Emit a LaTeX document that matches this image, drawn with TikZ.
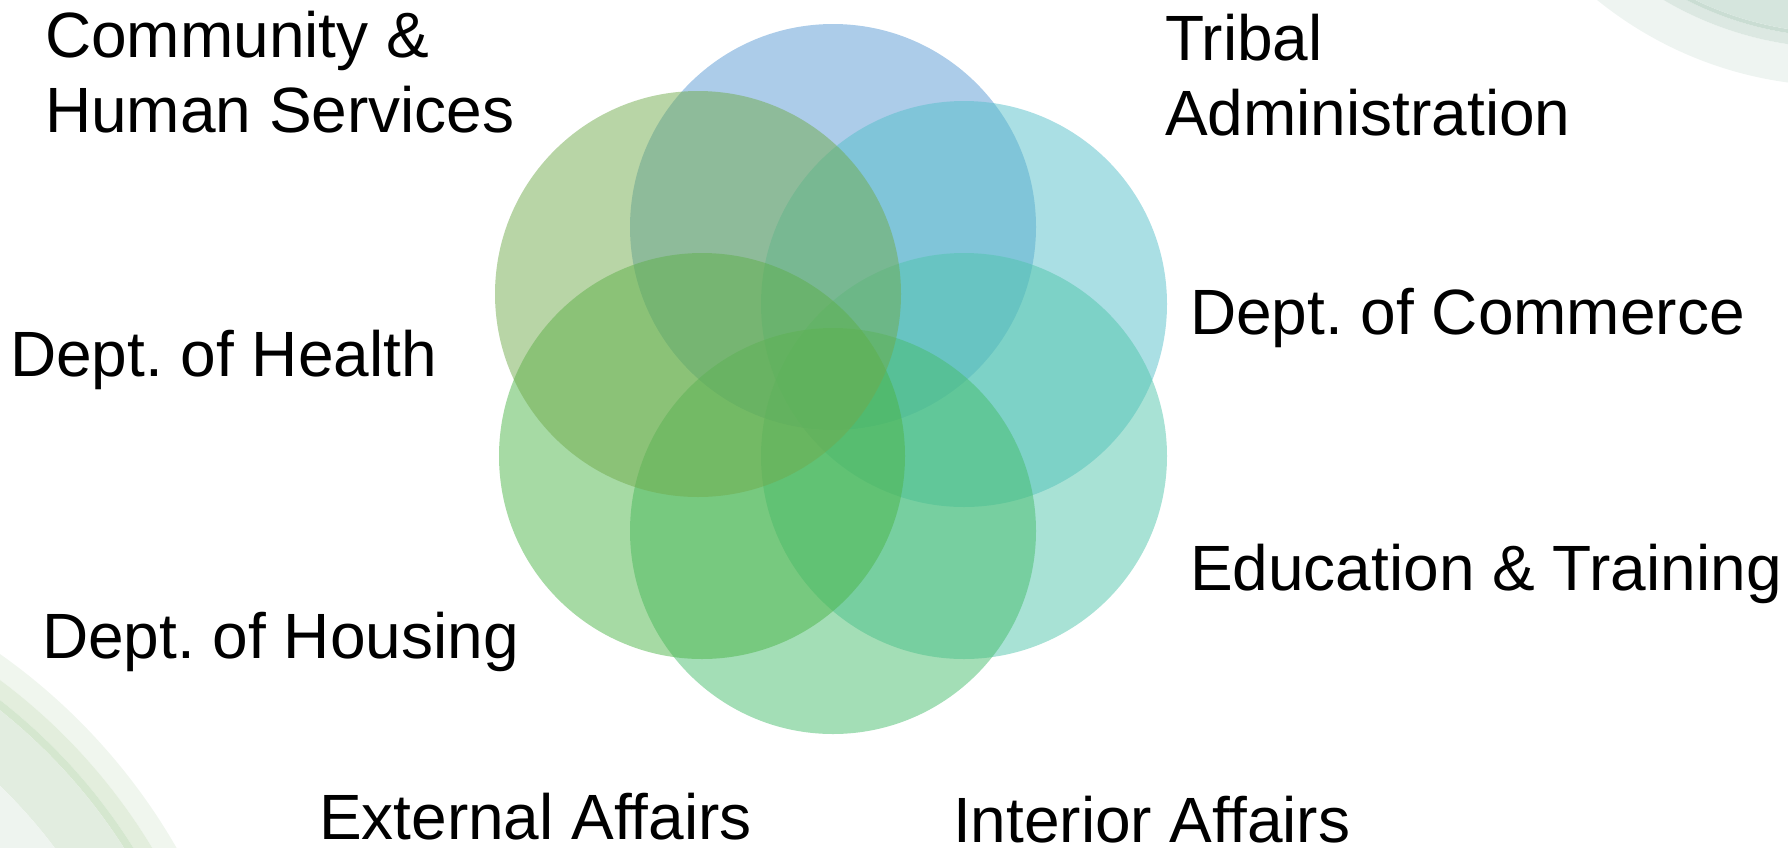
\documentclass[tikz,border=0pt]{standalone}
\usepackage{fontspec}
\setmainfont{Liberation Sans}
\frenchspacing
\definecolor{cblue}{RGB}{89,153,211}
\definecolor{cteal}{RGB}{85,191,201}
\definecolor{cmint}{RGB}{81,197,171}
\definecolor{cgreen}{RGB}{71,189,109}
\definecolor{cleaf}{RGB}{77,181,73}
\definecolor{colive}{RGB}{113,171,77}
\definecolor{blA}{HTML}{F0F6EE}
\definecolor{blB}{HTML}{E3EEDD}
\definecolor{blC}{HTML}{D5E7CF}
\definecolor{blD}{HTML}{E2EDE0}
\definecolor{blE}{HTML}{EEF4EF}
\definecolor{trA}{HTML}{EEF4F1}
\definecolor{trB}{HTML}{DCE8E2}
\definecolor{trC}{HTML}{CADDD3}
\definecolor{trD}{HTML}{D5E5DD}
\begin{document}
\begin{tikzpicture}[x=1pt,y=-1pt,
  venn/.style={circle, minimum size=406pt, inner sep=0pt, outer sep=0pt, draw=none, fill=#1, fill opacity=0.5},
  lbl/.style={anchor=base west, inner sep=0pt, outer sep=0pt, font=\fontsize{64}{75}\selectfont, align=left, text=black}]
\useasboundingbox (0,0) rectangle (1788,847);
\begin{scope}
\clip (0,0) rectangle (1788,847);
% bottom-left decoration
\coordinate (bl) at (-350,1150);
\fill[blA, even odd rule] (bl) circle[radius=607pt] (bl) circle[radius=586pt];
\fill[blB, even odd rule] (bl) circle[radius=586pt] (bl) circle[radius=570pt];
\fill[blC, even odd rule] (bl) circle[radius=570pt] (bl) circle[radius=562pt];
\fill[blD, even odd rule] (bl) circle[radius=562pt] (bl) circle[radius=505pt];
\fill[blE] (bl) circle[radius=505pt];
% top-right decoration
\coordinate (tr) at (1840,-300);
\fill[trA, even odd rule] (tr) circle[radius=386pt] (tr) circle[radius=348pt];
\fill[trB, even odd rule] (tr) circle[radius=348pt] (tr) circle[radius=337pt];
\fill[trC, even odd rule] (tr) circle[radius=337pt] (tr) circle[radius=333pt];
\fill[trD] (tr) circle[radius=333pt];
\end{scope}
% circles
\node[venn=cblue]  (tribal)   at (833,227) {};
\node[venn=cteal]  (commerce) at (964,304) {};
\node[venn=cmint]  (educ)     at (964,456) {};
\node[venn=cgreen] (interior) at (833,531) {};
\node[venn=cleaf]  (housing)  at (702,456) {};
\node[venn=colive] (comm)     at (698,294) {};
% labels
\node[lbl] (tcomm) at (45,132) {Community \&\\Human Services};
\node[lbl] (ttrib) at (1165,135) {Tribal\\Administration};
\node[lbl] (tcom) at (1190,334) {Dept. of Commerce};
\node[lbl] (thea) at (10,376) {Dept. of Health};
\node[lbl] (tedu) at (1190,590) {Education \& Training};
\node[lbl] (thou) at (42,658) {Dept. of Housing};
\node[lbl] (text) at (319,839) {External Affairs};
\node[lbl] (tint) at (953,842) {Interior Affairs};
\end{tikzpicture}
\end{document}
